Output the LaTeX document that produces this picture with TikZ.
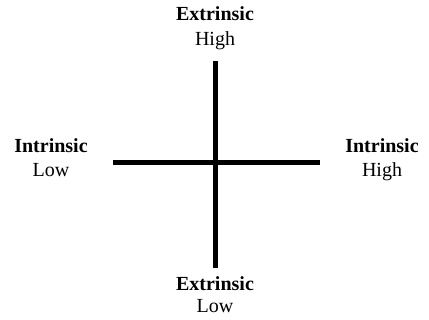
\documentclass[tikz,border=0pt]{standalone}
\usepackage{fontspec}
\setmainfont{Liberation Serif}
\begin{document}
\begin{tikzpicture}[x=1pt,y=-1pt,
  lbl/.style={anchor=base,inner sep=0pt,font=\fontsize{20}{24}\selectfont},
  blbl/.style={lbl,font=\fontsize{20}{24}\selectfont\bfseries},
  axis/.style={line width=5pt,black}]
\useasboundingbox (0,0) rectangle (429,320);
\coordinate (top) at (215,61);
\coordinate (bot) at (215,268);
\coordinate (lft) at (113,163);
\coordinate (rgt) at (320,163);
\draw[axis] (top) -- (bot);
\draw[axis] (lft) -- (rgt);
\node[blbl] (te) at (215,21) {Extrinsic};
\node[lbl] (th) at (215,46) {High};
\node[blbl] (le) at (51,153) {Intrinsic};
\node[lbl] (ll) at (51,177) {Low};
\node[blbl] (re) at (382,153) {Intrinsic};
\node[lbl] (rh) at (382,177) {High};
\node[blbl] (be) at (215,291) {Extrinsic};
\node[lbl] (bl) at (215,313) {Low};
\end{tikzpicture}
\end{document}
